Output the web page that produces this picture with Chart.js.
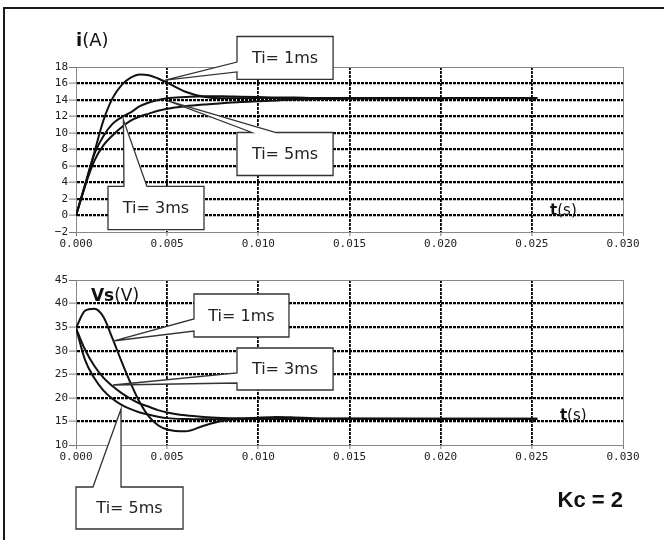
<!DOCTYPE html>
<html lang="en">
<head>
<meta charset="UTF-8">
<title>Kc = 2</title>
<script src="https://cdn.jsdelivr.net/npm/chart.js"></script>
<style>
  body { margin: 0; padding: 0; overflow: hidden; background: white; }
  #page { position: relative; width: 664px; height: 540px; overflow: hidden; }
  #frame { position: absolute; left: 3px; top: 7px; width: 700px; height: 600px; border: 2px solid #1a1a1a; }
  canvas { position: absolute; left: 0; }
  #top { top: 0; }
  #bot { top: 270px; }
</style>
</head>
<body>
<div id="page">
  <div id="frame"></div>
  <canvas id="top" width="664" height="270"></canvas>
  <canvas id="bot" width="664" height="270"></canvas>
</div>
<script>
// time (s), shared by every curve
const t = [0, 0.0005, 0.001, 0.0015, 0.002, 0.0025, 0.003, 0.0035, 0.004, 0.0045, 0.005,
           0.006, 0.007, 0.008, 0.009, 0.010, 0.011, 0.012, 0.013, 0.015, 0.020, 0.0253];

// current i (A)
const iTi1 = [0, 3.6, 7.6, 11.5, 14.2, 15.8, 16.7, 17.1, 17.0, 16.6, 16.1,
              15.0, 14.4, 14.2, 14.2, 14.25, 14.25, 14.25, 14.25, 14.25, 14.25, 14.25];
const iTi3 = [0, 3.8, 7.4, 9.6, 11.1, 11.9, 12.5, 13.25, 13.7, 14.0, 14.2,
              14.35, 14.45, 14.45, 14.4, 14.35, 14.3, 14.3, 14.25, 14.25, 14.25, 14.25];
const iTi5 = [0, 3.6, 6.6, 8.5, 9.7, 10.7, 11.5, 12.0, 12.35, 12.7, 12.95,
              13.25, 13.45, 13.6, 13.75, 13.85, 13.95, 14.05, 14.1, 14.15, 14.2, 14.2];

// voltage Vs (V)
const vsTi1 = [34.8, 38.5, 38.9, 37.2, 32.6, 27.7, 23.1, 19.0, 16.0, 14.2, 13.3,
               12.9, 14.1, 15.1, 15.55, 15.8, 15.95, 15.85, 15.7, 15.6, 15.55, 15.55];
const vsTi3 = [34.8, 30.2, 26.8, 24.3, 22.5, 21.0, 19.8, 18.8, 18.1, 17.4, 16.9,
               16.3, 15.95, 15.75, 15.65, 15.6, 15.6, 15.6, 15.55, 15.55, 15.55, 15.55];
const vsTi5 = [34.8, 28.0, 24.2, 21.6, 19.8, 18.5, 17.6, 16.9, 16.4, 16.0, 15.7,
               15.5, 15.45, 15.45, 15.5, 15.5, 15.5, 15.5, 15.5, 15.5, 15.5, 15.5];

// axes
const tMin = 0, tMax = 0.030, tStep = 0.005;
const iMin = -2, iMax = 18, iStep = 2;
const vsMin = 10, vsMax = 45, vsStep = 5;

const BOLD = 'bold 17px "DejaVu Sans"';
const NORM = '17px "DejaVu Sans"';

// callout boxes and axis names, drawn through the chart scales
const callouts = {
  id: 'callouts',
  afterDatasetsDraw(chart, args, opts) {
    const { ctx, scales: { x, y } } = chart;
    const px = v => x.getPixelForValue(v), py = v => y.getPixelForValue(v);
    ctx.save();
    (opts.boxes || []).forEach(b => {
      const x0 = px(b.box[0]), y0 = py(b.box[1]), x1 = px(b.box[2]), y1 = py(b.box[3]);
      const tx = px(b.tip[0]), ty = py(b.tip[1]);
      ctx.beginPath();
      if (b.side === 'left') {
        ctx.moveTo(x0, y0); ctx.lineTo(x1, y0); ctx.lineTo(x1, y1); ctx.lineTo(x0, y1);
        ctx.lineTo(x0, py(b.base[1])); ctx.lineTo(tx, ty); ctx.lineTo(x0, py(b.base[0]));
      } else {
        ctx.moveTo(x0, y0); ctx.lineTo(px(b.base[0]), y0); ctx.lineTo(tx, ty);
        ctx.lineTo(px(b.base[1]), y0); ctx.lineTo(x1, y0); ctx.lineTo(x1, y1); ctx.lineTo(x0, y1);
      }
      ctx.closePath();
      ctx.fillStyle = '#fff';
      ctx.fill();
      ctx.lineWidth = 1.3;
      ctx.strokeStyle = '#333';
      ctx.stroke();
      ctx.fillStyle = '#222';
      ctx.font = '16px "DejaVu Sans"';
      ctx.textAlign = 'center';
      ctx.textBaseline = 'middle';
      ctx.fillText(b.text, (x0 + x1) / 2, (y0 + y1) / 2 + 1);
    });
    (opts.labels || []).forEach(l => {
      let cx = px(l.at[0]);
      const cy = py(l.at[1]);
      ctx.textAlign = 'left';
      ctx.textBaseline = 'alphabetic';
      ctx.fillStyle = '#111';
      let w = 0;
      l.parts.forEach(p => { ctx.font = p[1]; w += ctx.measureText(p[0]).width; });
      if (l.align === 'right') cx -= w;
      l.parts.forEach(p => {
        ctx.font = p[1];
        ctx.fillText(p[0], cx, cy);
        cx += ctx.measureText(p[0]).width;
      });
    });
    ctx.restore();
  }
};

function series(values) {
  return {
    data: t.map((tv, k) => ({ x: tv, y: values[k] })),
    borderColor: '#111',
    borderWidth: 2,
    pointRadius: 0,
    cubicInterpolationMode: 'monotone',
    fill: false
  };
}

function isEdge(v, lo, hi) {
  return Math.abs(v - lo) < 1e-9 || Math.abs(v - hi) < 1e-9;
}

function makeChart(id, datasets, yMin, yMax, yStep, padTop, padBottom, plugOpts) {
  return new Chart(document.getElementById(id), {
    type: 'line',
    data: { datasets },
    options: {
      responsive: false,
      animation: false,
      layout: { padding: { left: 0, right: 41, top: padTop, bottom: padBottom } },
      plugins: { legend: { display: false }, tooltip: { enabled: false }, callouts: plugOpts },
      scales: {
        x: {
          type: 'linear', min: tMin, max: tMax,
          afterFit: s => { s.height = 22; },
          ticks: {
            stepSize: tStep, padding: 2, maxRotation: 0, autoSkip: false,
            color: '#222', font: { family: 'DejaVu Sans Mono', size: 11 },
            callback: v => Number(v).toFixed(3)
          },
          grid: {
            color: c => isEdge(c.tick.value, tMin, tMax) ? '#888' : '#000',
            lineWidth: c => isEdge(c.tick.value, tMin, tMax) ? 1 : 1.8,
            tickColor: '#777', tickLength: 4, tickWidth: 1
          },
          border: { color: '#888', width: 1, dash: c => (c.tick && !isEdge(c.tick.value, tMin, tMax)) ? [3, 1] : [] }
        },
        y: {
          min: yMin, max: yMax,
          afterFit: s => { s.width = 76; },
          ticks: {
            stepSize: yStep, padding: 1,
            color: '#222', font: { family: 'DejaVu Sans Mono', size: 11 },
            callback: v => String(v).replace('-', '\u2212')
          },
          grid: {
            color: c => isEdge(c.tick.value, yMin, yMax) ? '#888' : '#000',
            lineWidth: c => isEdge(c.tick.value, yMin, yMax) ? 1 : 2.2,
            tickColor: '#777', tickLength: 7, tickWidth: 1
          },
          border: { color: '#888', width: 1, dash: c => (c.tick && !isEdge(c.tick.value, yMin, yMax)) ? [3, 1] : [] }
        }
      }
    },
    plugins: [callouts]
  });
}

makeChart('top', [series(iTi1), series(iTi3), series(iTi5)], iMin, iMax, iStep, 67, 16, {
  boxes: [
    { text: 'Ti= 1ms', box: [0.00883, 21.7, 0.01410, 16.5], side: 'left', base: [18.6, 17.4], tip: [0.0049, 16.4] },
    { text: 'Ti= 5ms', box: [0.00883, 10.06, 0.01410, 4.85], side: 'top', base: [0.00965, 0.01097], tip: [0.00505, 13.9] },
    { text: 'Ti= 3ms', box: [0.001755, 3.52, 0.00702, -1.70], side: 'top', base: [0.00263, 0.00389], tip: [0.0026, 11.6] }
  ],
  labels: [
    { at: [0, 20.6], parts: [['i', 'bold 18px "DejaVu Sans"'], ['(A)', '18px "DejaVu Sans"']] },
    { at: [0.026, 0.1], parts: [['t', 'bold 15px "DejaVu Sans"'], ['(s)', '15px "DejaVu Sans"']] }
  ]
});

makeChart('bot', [series(vsTi1), series(vsTi3), series(vsTi5)], vsMin, vsMax, vsStep, 10, 73, {
  boxes: [
    { text: 'Ti= 1ms', box: [0.00647, 42.03, 0.01168, 32.91], side: 'left', base: [36.73, 34.18], tip: [0.00203, 32.06] },
    { text: 'Ti= 3ms', box: [0.00883, 30.58, 0.01410, 21.67], side: 'left', base: [25.27, 23.15], tip: [0.00203, 22.73] },
    { text: 'Ti= 5ms', box: [0, 1.09, 0.00587, -7.82], side: 'top', base: [0.00093, 0.00247], tip: [0.00247, 17.64] }
  ],
  labels: [
    { at: [0.00082, 40.5], parts: [['Vs', BOLD], ['(V)', NORM]] },
    { at: [0.02654, 15.3], parts: [['t', 'bold 15px "DejaVu Sans"'], ['(s)', '15px "DejaVu Sans"']] },
    { at: [0.030, -3.15], align: 'right', parts: [['Kc = 2', 'bold 22px "Liberation Sans"']] }
  ]
});
</script>
</body>
</html>
